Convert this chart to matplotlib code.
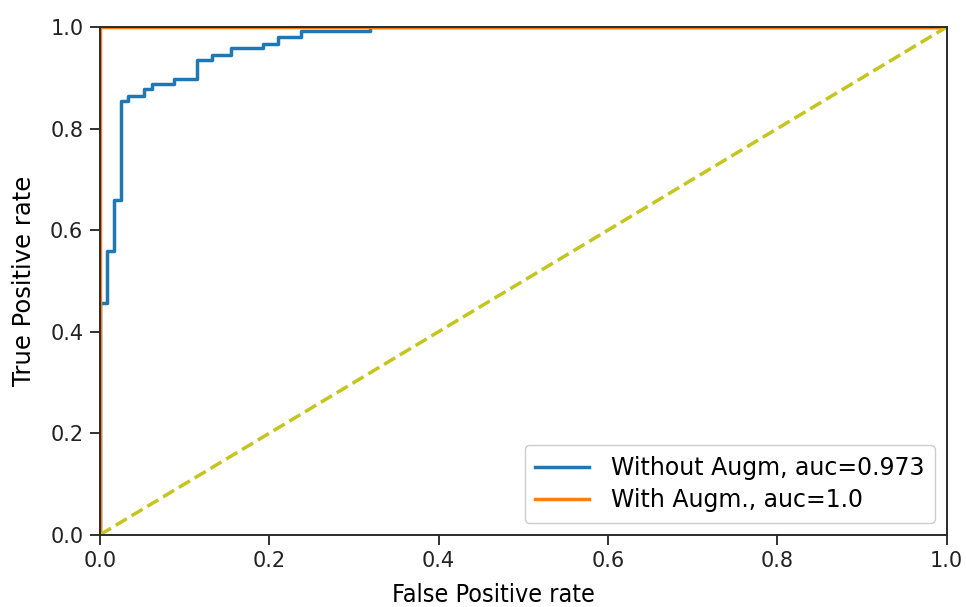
import numpy as np
import matplotlib
matplotlib.use("Agg")
import matplotlib.pyplot as plt

# ROC curve (step points)
fpr_without = [0.0, 0.0, 0.008, 0.008, 0.016, 0.016, 0.025, 0.025, 0.033, 0.033,
               0.052, 0.052, 0.061, 0.061, 0.087, 0.087, 0.114, 0.114, 0.132, 0.132,
               0.155, 0.155, 0.193, 0.193, 0.210, 0.210, 0.238, 0.238, 0.319, 0.319, 1.0]
tpr_without = [0.0, 0.457, 0.457, 0.558, 0.558, 0.659, 0.659, 0.854, 0.854, 0.864,
               0.864, 0.878, 0.878, 0.888, 0.888, 0.898, 0.898, 0.935, 0.935, 0.944,
               0.944, 0.958, 0.958, 0.967, 0.967, 0.980, 0.980, 0.992, 0.992, 1.0, 1.0]
fpr_with = [0.0, 0.0, 1.0]
tpr_with = [0.0, 1.0, 1.0]
auc_without = 0.973
auc_with = 1.0

fig = plt.figure(figsize=(9.66, 6.07), dpi=100)
ax = fig.add_axes([0.1035, 0.119, 0.8765, 0.8365])

ax.plot(fpr_without, tpr_without, color="#1f77b4", lw=2.5,
        label="Without Augm, auc=%s" % auc_without)
ax.plot(fpr_with, tpr_with, color="#ff7f0e", lw=2.5,
        label="With Augm., auc=%s" % auc_with)
ax.plot([0, 1], [0, 1], color="#c5c520", lw=2.5, linestyle="--")

ax.set_xlim(0, 1)
ax.set_ylim(0, 1)
ax.set_xticks(np.arange(0, 1.01, 0.2))
ax.set_yticks(np.arange(0, 1.01, 0.2))
ax.tick_params(labelsize=15, length=7, width=1.3, colors="#222222", pad=5)
for s in ax.spines.values():
    s.set_linewidth(1.4)
    s.set_color("#2b2b2b")
    s.set_zorder(3)

ax.set_xlabel("False Positive rate", fontsize=18, fontstretch="condensed",
              family="DejaVu Sans")
ax.xaxis.set_label_coords(0.465, -0.095)
ax.set_ylabel("True Positive rate", fontsize=17.5, labelpad=10)

leg = ax.legend(loc="lower right", fontsize=17, handlelength=2.3,
                handletextpad=0.9, borderpad=0.45, labelspacing=0.35,
                framealpha=1)
leg.get_frame().set_edgecolor("#cccccc")

fig.savefig("out.png", dpi=100)
